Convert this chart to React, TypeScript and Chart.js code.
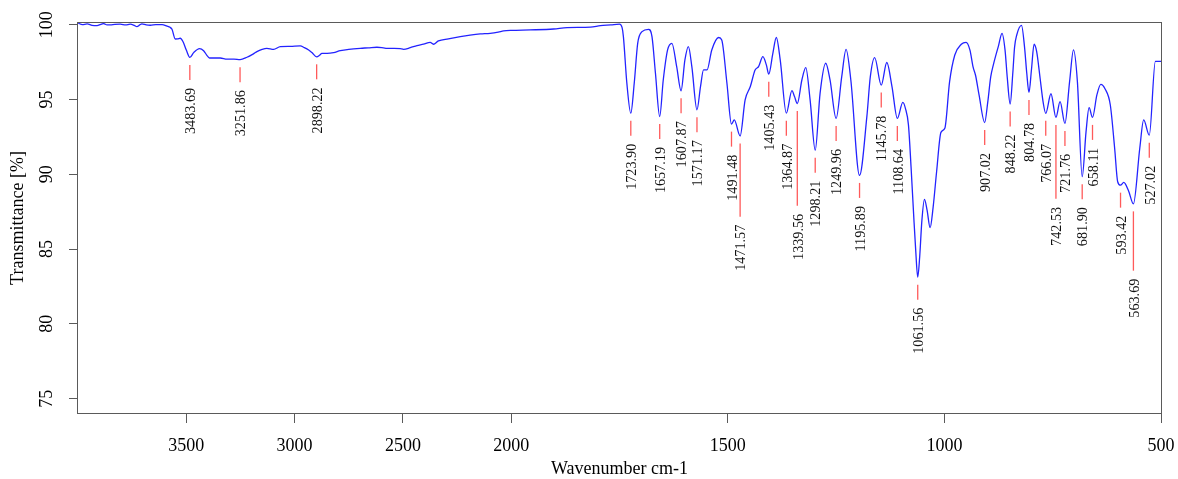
import React, { useEffect, useRef } from 'react';
import { Chart, registerables, LinearScale } from 'chart.js';

Chart.register(...registerables);

// ---------- data ----------
const wavenumbers: number[] = [
  3999, 3980, 3958, 3935, 3912, 3895, 3882, 3866, 3851, 3830, 3805, 3780, 3759, 3740, 3728, 3715, 3705, 3685, 3666, 3640,
  3612, 3589, 3575, 3566, 3551, 3540, 3528, 3515, 3500, 3483.69, 3466, 3439, 3420, 3405, 3393, 3343, 3312, 3280, 3251.86, 3220,
  3190, 3174, 3150, 3128, 3097, 3066, 3020, 2974, 2955, 2935, 2920, 2898.22, 2885, 2874, 2850, 2820, 2789, 2750, 2697, 2660,
  2620, 2590, 2574, 2540, 2512, 2497, 2466, 2435, 2405, 2374, 2359, 2336, 2290, 2235, 2190, 2143, 2097, 2060, 2035, 2000,
  1956, 1902, 1871, 1817, 1794, 1770, 1750, 1744, 1741, 1733, 1723.9, 1716, 1708, 1698, 1683, 1675, 1667, 1657.19, 1649, 1639,
  1629, 1618, 1607.87, 1599, 1591, 1583, 1571.17, 1563, 1556, 1548, 1537, 1521, 1514, 1502, 1491.48, 1485, 1471.57, 1460, 1448, 1437,
  1429, 1419, 1411, 1405.43, 1396, 1388, 1379, 1364.87, 1352, 1346, 1339.56, 1329, 1320, 1310, 1298.21, 1287, 1274, 1264, 1249.96, 1237,
  1227, 1216, 1195.89, 1179, 1171, 1161, 1145.78, 1133, 1121, 1108.64, 1096, 1090, 1083, 1077, 1071, 1066, 1061.56, 1057, 1052, 1046,
  1040, 1033, 1026, 1018, 1008, 999, 988, 976, 961, 950, 941, 934, 928, 920, 907.02, 900, 893, 887, 875, 867,
  860, 855, 848.22, 842, 838, 833, 822, 815, 810, 804.78, 799, 793, 787, 779, 772, 766.07, 754, 742.53, 733, 721.76,
  711, 702, 693, 681.9, 673, 666, 658.11, 648, 639, 629, 617, 607, 600, 593.42, 586, 575, 563.69, 549, 540, 527.02,
  513, 500,
];

const transmittance: number[] = [
  100.1, 100.0, 100.05, 99.95, 99.93, 100.02, 100.07, 99.98, 99.98, 100.02, 100.03, 99.98, 100.03, 99.95, 99.87, 99.98, 100.05, 99.98, 99.96, 100.0,
  100.0, 99.9, 99.82, 99.69, 99.04, 99.05, 99.09, 98.86, 98.3, 97.81, 98.13, 98.4, 98.26, 97.95, 97.77, 97.77, 97.69, 97.7, 97.66, 97.82,
  98.05, 98.2, 98.35, 98.42, 98.35, 98.53, 98.55, 98.58, 98.46, 98.3, 98.13, 97.85, 97.95, 98.08, 98.08, 98.13, 98.26, 98.35, 98.42, 98.45,
  98.49, 98.45, 98.42, 98.42, 98.4, 98.35, 98.46, 98.6, 98.69, 98.82, 98.69, 98.91, 99.05, 99.2, 99.3, 99.38, 99.42, 99.5, 99.58, 99.62,
  99.65, 99.71, 99.8, 99.83, 99.93, 99.98, 100.03, 99.8, 99.2, 96.08, 94.08, 96.08, 98.75, 99.53, 99.69, 99.2, 96.75, 93.86, 96.3, 98.31,
  98.75, 97.19, 95.58, 97.64, 98.53, 97.19, 94.31, 95.86, 96.97, 96.97, 98.31, 99.14, 98.98, 96.08, 93.35, 93.63, 92.56, 94.97, 95.86, 96.97,
  97.19, 97.86, 97.31, 96.69, 98.08, 99.14, 97.64, 94.08, 95.59, 95.19, 94.73, 96.3, 97.13, 94.97, 91.61, 95.41, 97.42, 96.3, 93.73, 96.52,
  98.35, 96.3, 89.92, 93.85, 96.52, 97.8, 95.96, 97.47, 95.86, 93.73, 94.8, 94.4, 93.3, 90.5, 87.3, 84.8, 83.12, 84.5, 86.9, 88.32,
  87.6, 86.43, 87.8, 90.17, 92.8, 93.07, 96.19, 97.97, 98.69, 98.82, 98.3, 97.2, 96.6, 95.3, 93.46, 94.8, 96.52, 97.31, 98.6, 99.42,
  98.3, 96.5, 94.7, 96.8, 98.5, 99.31, 99.95, 98.5, 96.8, 95.47, 97.0, 98.69, 98.2, 96.4, 94.8, 94.07, 95.38, 93.8, 94.85, 93.4,
  96.19, 98.31, 96.19, 89.84, 92.85, 94.45, 93.8, 95.3, 96.01, 95.7, 94.63, 91.74, 89.5, 89.27, 89.45, 88.9, 88.02, 91.74, 93.63, 92.61,
  97.54, 97.54,
];

const peakWavenumbers: number[] = [
  3483.69, 3251.86, 2898.22, 1723.9, 1657.19, 1607.87, 1571.17, 1491.48, 1471.57, 1405.43,
  1364.87, 1339.56, 1298.21, 1249.96, 1195.89, 1145.78, 1108.64, 1061.56, 907.02, 848.22,
  804.78, 766.07, 742.53, 721.76, 681.9, 658.11, 593.42, 563.69, 527.02,
];

const xTickValues: number[] = [3500, 3000, 2500, 2000, 1500, 1000, 500];
const yTickValues: number[] = [75, 80, 85, 90, 95, 100];

// ---------- axis with compressed high-wavenumber region ----------
const W_LEFT = 4000;
const W_RIGHT = 500;
const W_BREAK = 2000;
const COMPRESS = 2;
const toU = (w: number) => (w >= W_BREAK ? (W_LEFT - w) / COMPRESS : (W_LEFT - W_BREAK) / COMPRESS + (W_BREAK - w));
const fromU = (u: number) => {
  const ub = (W_LEFT - W_BREAK) / COMPRESS;
  return u <= ub ? W_LEFT - u * COMPRESS : W_BREAK - (u - ub);
};
const U_MAX = toU(W_RIGHT);

class BrokenWavenumberScale extends LinearScale {
  static id = 'brokenWavenumber';
  static defaults = {};
  getPixelForValue(value: number) {
    return this.getPixelForDecimal(toU(value) / U_MAX);
  }
  getValueForPixel(pixel: number) {
    return fromU(this.getDecimalForPixel(pixel) * U_MAX);
  }
}
Chart.register(BrokenWavenumberScale as any);

const SERIF = '"Liberation Serif", "Times New Roman", serif';
const AXIS_GREY = '#5a5a5a';

function valueAt(w: number): number {
  for (let i = 0; i < wavenumbers.length - 1; i++) {
    const a = wavenumbers[i], b = wavenumbers[i + 1];
    if (w <= a && w >= b) {
      const t = a === b ? 0 : (a - w) / (a - b);
      return transmittance[i] + t * (transmittance[i + 1] - transmittance[i]);
    }
  }
  return transmittance[transmittance.length - 1];
}

const framePlugin = {
  id: 'frame',
  beforeDatasetsDraw(chart: any) {
    const { ctx, chartArea } = chart;
    ctx.save();
    ctx.strokeStyle = AXIS_GREY;
    ctx.lineWidth = 1;
    const l = Math.round(chartArea.left) - 0.5;
    const t = Math.round(chartArea.top) - 0.5;
    const r = Math.round(chartArea.right) + 0.5;
    const b = Math.round(chartArea.bottom) + 0.5;
    ctx.strokeRect(l, t, r - l, b - t);
    ctx.restore();
  },
};

const peakLabelPlugin = {
  id: 'peakLabels',
  afterDatasetsDraw(chart: any) {
    const { ctx } = chart;
    const xs = chart.scales.x;
    const ys = chart.scales.y;
    const LINE_OFFSET = 7.5;
    const LINE_LEN = 15;
    const GAP = 8;
    const MIN_DX = 14;
    ctx.save();
    ctx.font = `14.2px ${SERIF}`;
    const placed: { x: number; top: number; bottom: number }[] = [];
    for (const wn of peakWavenumbers) {
      const px = xs.getPixelForValue(wn);
      const py = ys.getPixelForValue(valueAt(wn));
      const label = wn.toFixed(2);
      const tw = ctx.measureText(label).width;
      const lineStart = py + LINE_OFFSET;
      let unitTop = lineStart;
      let moved = true;
      let guard = 0;
      while (moved && guard < 20) {
        moved = false;
        guard++;
        const tTop = unitTop + LINE_LEN + GAP;
        const tBot = tTop + tw;
        for (const r of placed) {
          if (Math.abs(r.x - px) < MIN_DX && tTop < r.bottom && tBot > r.top) {
            unitTop = r.bottom + 1;
            moved = true;
          }
        }
      }
      const lineEnd = unitTop + LINE_LEN;
      const textTop = lineEnd + GAP;
      ctx.strokeStyle = '#ff5a5a';
      ctx.lineWidth = 1.3;
      ctx.beginPath();
      ctx.moveTo(px, lineStart);
      ctx.lineTo(px, lineEnd);
      ctx.stroke();
      ctx.save();
      ctx.translate(px + 1.5, textTop);
      ctx.rotate(-Math.PI / 2);
      ctx.fillStyle = '#111';
      ctx.textAlign = 'right';
      ctx.textBaseline = 'middle';
      ctx.fillText(label, 0, 0);
      ctx.restore();
      placed.push({ x: px, top: textTop, bottom: textTop + tw });
    }
    ctx.restore();
  },
};

export default function App() {
  const canvasRef = useRef<HTMLCanvasElement | null>(null);

  useEffect(() => {
    const canvas = canvasRef.current;
    if (!canvas) return;
    const points = wavenumbers.map((w, i) => ({ x: w, y: transmittance[i] }));
    const chart = new Chart(canvas, {
      type: 'line',
      data: {
        datasets: [
          {
            data: points,
            borderColor: 'rgb(35, 35, 255)',
            borderWidth: 1.3,
            pointRadius: 0,
            fill: false,
            cubicInterpolationMode: 'monotone',
          } as any,
        ],
      },
      options: {
        animation: false,
        responsive: false,
        events: [],
        layout: { padding: { top: 23, right: 17, left: 0, bottom: 0 } },
        plugins: { legend: { display: false }, tooltip: { enabled: false } },
        scales: {
          x: {
            type: 'brokenWavenumber' as any,
            min: W_RIGHT,
            max: W_LEFT,
            afterBuildTicks: (s: any) => {
              s.ticks = xTickValues.map((v) => ({ value: v }));
            },
            afterFit: (s: any) => {
              s.height = 66;
              s.paddingLeft = 0;
              s.paddingRight = 0;
            },
            border: { display: false },
            grid: {
              drawOnChartArea: false,
              drawTicks: true,
              tickLength: 10,
              color: AXIS_GREY,
              tickColor: AXIS_GREY,
              lineWidth: 1,
            },
            ticks: {
              autoSkip: false,
              maxRotation: 0,
              minRotation: 0,
              padding: 12.5,
              color: '#000',
              font: { family: SERIF, size: 18 },
              callback: (v: any) => String(v),
            },
            title: {
              display: true,
              text: 'Wavenumber cm-1',
              color: '#000',
              font: { family: SERIF, size: 18 },
              padding: { top: 0, bottom: -1 },
            },
          } as any,
          y: {
            type: 'linear',
            min: 74.04,
            max: 100.11,
            afterBuildTicks: (s: any) => {
              s.ticks = yTickValues.map((v) => ({ value: v }));
            },
            afterFit: (s: any) => {
              s.width = 78;
              s.paddingTop = 0;
              s.paddingBottom = 0;
            },
            border: { display: false },
            grid: {
              drawOnChartArea: false,
              drawTicks: true,
              tickLength: 9,
              color: AXIS_GREY,
              tickColor: AXIS_GREY,
              lineWidth: 1,
            },
            ticks: {
              autoSkip: false,
              minRotation: 90,
              maxRotation: 90,
              crossAlign: 'center',
              padding: 8,
              color: '#000',
              font: { family: SERIF, size: 18 },
              callback: (v: any) => String(v),
            },
            title: {
              display: true,
              text: 'Transmittance [%]',
              color: '#000',
              font: { family: SERIF, size: 18 },
              padding: { top: 7.7, bottom: 0 },
            },
          } as any,
        },
      },
      plugins: [framePlugin, peakLabelPlugin],
    });
    return () => chart.destroy();
  }, []);

  return (
    <div style={{ position: 'fixed', left: 0, top: 0, width: 1178, height: 479, background: '#fff' }}>
      <canvas ref={canvasRef} width={1178} height={479} style={{ display: 'block' }} />
    </div>
  );
}
